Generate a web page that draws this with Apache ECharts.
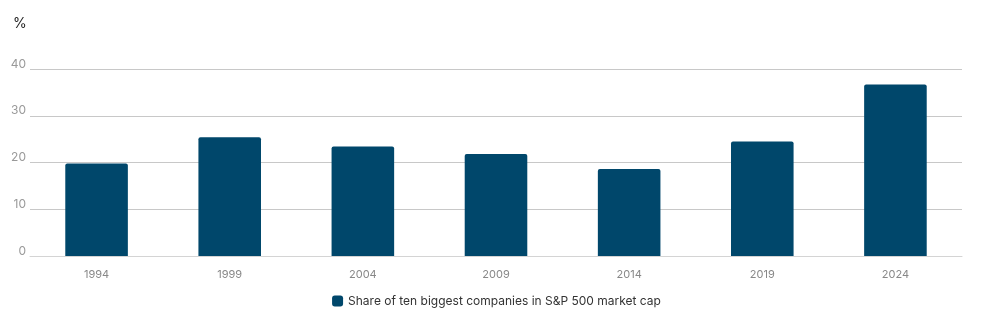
<!DOCTYPE html>
<html><head><meta charset="utf-8">
<script src="https://cdn.jsdelivr.net/npm/echarts@6/dist/echarts.min.js"></script>
<style>html,body{margin:0;padding:0;background:#fff}#c{width:993px;height:322px}</style>
</head><body><div id="c"></div>
<script>
const categories = ['1994','1999','2004','2009','2014','2019','2024'];
const shareValues = [19.8, 25.4, 23.4, 21.8, 18.6, 24.5, 36.7];
const seriesName = 'Share of ten biggest companies in S&P 500 market cap';
const yTicks = [0, 10, 20, 30, 40];

const chart = echarts.init(document.getElementById('c'));
chart.setOption({
  animation: false,
  textStyle: { fontFamily: 'Inter, Roboto, sans-serif' },
  title: { text: '%', left: 8, top: 12, textStyle: { fontSize: 14, fontWeight: 'normal', color: '#222', fontFamily: 'Inter, Roboto, sans-serif' } },
  grid: { left: 30, right: 31, top: 69, bottom: 66, containLabel: false },
  legend: {
    bottom: 10, left: 'center', itemWidth: 11, itemHeight: 11, itemGap: 6,
    icon: 'roundRect',
    textStyle: { fontSize: 12, color: '#333' },
    data: [seriesName]
  },
  xAxis: {
    type: 'category', data: categories,
    axisLine: { lineStyle: { color: '#d4d4d4' } },
    axisTick: { show: false },
    axisLabel: { color: '#888', fontSize: 11, margin: 13 }
  },
  yAxis: {
    type: 'value', min: yTicks[0], max: yTicks[yTicks.length-1], interval: 10,
    axisLine: { show: false }, axisTick: { show: false },
    axisLabel: { color: '#999', fontSize: 12, margin: 4, verticalAlign: 'bottom', lineHeight: 10 },
    splitLine: { lineStyle: { color: '#c8c8c8', width: 1 } }
  },
  series: [{
    name: seriesName, type: 'bar', data: shareValues,
    barWidth: '47%',
    itemStyle: { color: '#00476b', borderRadius: [2,2,0,0] }
  }]
});
</script></body></html>
